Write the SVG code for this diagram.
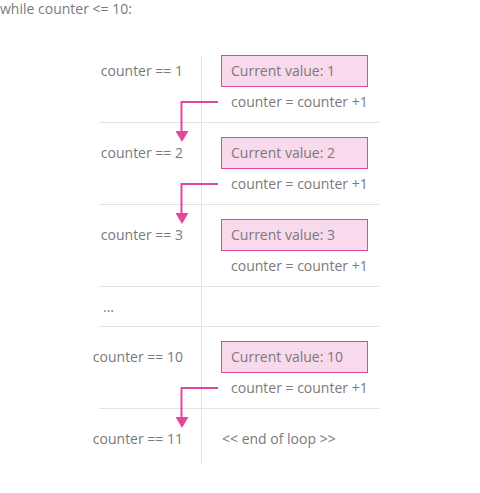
<svg xmlns="http://www.w3.org/2000/svg" width="480" height="493" viewBox="0 0 480 493">
<defs>
<style>
text{font-family:"Open Sans","Liberation Sans",sans-serif;font-size:14px;fill:#7a7a7a}
.r{text-anchor:end}
.grid{stroke:#e3e3e3;stroke-width:1;fill:none}
.box{fill:#f9d9ec;stroke:#e0479e;stroke-width:1}
.arrow{stroke:#e3469f;stroke-width:2;fill:none}
.head{fill:#e3469f}
</style>
</defs>
<text x="0" y="14">while counter &lt;= 10:</text>
<g id="grid">
<line class="grid" x1="201.5" y1="55" x2="201.5" y2="465"/>
<line class="grid" x1="99" y1="122.5" x2="379" y2="122.5"/>
<line class="grid" x1="99" y1="204.5" x2="379" y2="204.5"/>
<line class="grid" x1="99" y1="286.5" x2="379" y2="286.5"/>
<line class="grid" x1="99" y1="326.5" x2="379" y2="326.5"/>
<line class="grid" x1="99" y1="408.5" x2="379" y2="408.5"/>
</g>
<g id="row1">
<text class="r" x="183" y="76">counter == 1</text>
<rect class="box" x="221.5" y="55.5" width="146" height="31"/>
<text x="231" y="76">Current value: 1</text>
<text x="231" y="107">counter = counter +1</text>
</g>
<g id="row2">
<text class="r" x="183" y="158">counter == 2</text>
<rect class="box" x="221.5" y="137.5" width="146" height="31"/>
<text x="231" y="158">Current value: 2</text>
<text x="231" y="189">counter = counter +1</text>
</g>
<g id="row3">
<text class="r" x="183" y="240">counter == 3</text>
<rect class="box" x="221.5" y="219.5" width="146" height="31"/>
<text x="231" y="240">Current value: 3</text>
<text x="231" y="271">counter = counter +1</text>
</g>
<g id="row-ellipsis">
<text x="103" y="312">...</text>
</g>
<g id="row10">
<text class="r" x="183" y="362">counter == 10</text>
<rect class="box" x="221.5" y="341.5" width="146" height="31"/>
<text x="231" y="362">Current value: 10</text>
<text x="231" y="393">counter = counter +1</text>
</g>
<g id="row11">
<text class="r" x="183" y="444">counter == 11</text>
<text x="222" y="444">&lt;&lt; end of loop &gt;&gt;</text>
</g>
<g id="connectors">
<path class="arrow" d="M218,102 H181.5 V131"/>
<path class="head" d="M175.5,131 H188.5 L182,142 Z"/>
<path class="arrow" d="M218,184 H181.5 V213"/>
<path class="head" d="M175.5,213 H188.5 L182,224 Z"/>
<path class="arrow" d="M218,388 H181.5 V417"/>
<path class="head" d="M175.5,417 H188.5 L182,428 Z"/>
</g>
</svg>
